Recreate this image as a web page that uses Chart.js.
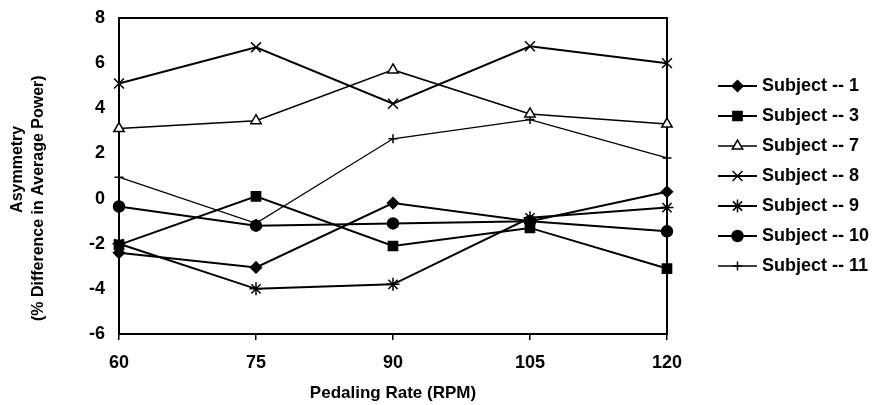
<!DOCTYPE html>
<html>
<head>
<meta charset="utf-8">
<title>Asymmetry vs Pedaling Rate</title>
<script src="https://cdn.jsdelivr.net/npm/chart.js@4/dist/chart.umd.min.js"></script>
<style>
  html, body { margin: 0; padding: 0; background: #fff; }
  #chart { display: block; }
</style>
</head>
<body>
<canvas id="chart" width="873" height="405"></canvas>
<script>
// Pedaling rate categories (RPM)
const rpm = [60, 75, 90, 105, 120];

// Asymmetry values (% difference in average power) per subject
const subject1 = [-2.4, -3.05, -0.2, -1.0, 0.3];
const subject3 = [-2.05, 0.1, -2.1, -1.3, -3.1];
const subject7 = [3.1, 3.45, 5.7, 3.75, 3.3];
const subject8 = [5.1, 6.7, 4.2, 6.75, 6.0];
const subject9 = [-2.0, -4.0, -3.8, -0.85, -0.4];
const subject10 = [-0.35, -1.2, -1.1, -1.0, -1.45];
const subject11 = [0.95, -1.1, 2.65, 3.5, 1.8];

const seriesNames = ['Subject -- 1', 'Subject -- 3', 'Subject -- 7', 'Subject -- 8',
                     'Subject -- 9', 'Subject -- 10', 'Subject -- 11'];

// y axis ticks
const yMin = -6;
const yMax = 8;
const yStep = 2;

const FONT = "'Liberation Sans', Arial, Helvetica, sans-serif";

function series(label, values, style, radius, fill, width) {
    return {
        label: label,
        data: values,
        borderColor: '#000',
        borderWidth: width,
        pointStyle: style,
        pointRadius: radius,
        pointHoverRadius: radius,
        pointBackgroundColor: fill,
        pointBorderColor: '#000',
        pointBorderWidth: 1.5,
        tension: 0,
        fill: false
    };
}

const datasets = [
    series(seriesNames[0], subject1, 'rectRot', 5.5, '#000', 2),
    series(seriesNames[1], subject3, 'rect', 6.5, '#000', 2),
    series(seriesNames[2], subject7, 'triangle', 6, '#fff', 1.5),
    series(seriesNames[3], subject8, 'crossRot', 7, '#000', 2),
    series(seriesNames[4], subject9, 'star', 6.5, '#000', 2),
    series(seriesNames[5], subject10, 'circle', 5.5, '#000', 2),
    series(seriesNames[6], subject11, 'cross', 4.5, '#000', 1.3)
];

// legend swatch: short line with the marker on it
function legendIcon(ds) {
    const c = document.createElement('canvas');
    c.width = 48;
    c.height = 18;
    const g = c.getContext('2d');
    g.strokeStyle = '#000';
    g.lineWidth = ds.borderWidth;
    g.beginPath();
    g.moveTo(9, 9);
    g.lineTo(48, 9);
    g.stroke();
    g.fillStyle = ds.pointBackgroundColor;
    g.lineWidth = ds.pointBorderWidth;
    Chart.helpers.drawPoint(g, {
        pointStyle: ds.pointStyle,
        radius: ds.pointRadius,
        borderWidth: ds.pointBorderWidth,
        rotation: 0
    }, 28.5, 9);
    return c;
}

const ctx = document.getElementById('chart').getContext('2d');
const chart = new Chart(ctx, {
    type: 'line',
    data: {
        labels: rpm,
        datasets: datasets
    },
    options: {
        responsive: false,
        animation: false,
        events: [],
        layout: { padding: { left: 0, top: 0, bottom: 0, right: -6 } },
        scales: {
            x: {
                position: 'bottom',
                offset: false,
                grid: {
                    display: true,
                    drawOnChartArea: false,
                    drawTicks: true,
                    tickLength: 6,
                    color: '#000',
                    lineWidth: 1.5,
                    offset: false
                },
                border: { display: true, color: '#000', width: 2 },
                ticks: {
                    color: '#000',
                    padding: 12,
                    maxRotation: 0,
                    font: { family: FONT, size: 18, weight: 'bold' }
                },
                title: {
                    display: true,
                    text: 'Pedaling Rate (RPM)',
                    color: '#000',
                    padding: { top: 0, bottom: 1 },
                    font: { family: FONT, size: 17, weight: 'bold' }
                },
                afterFit: s => { s.height = 71; }
            },
            y: {
                position: 'left',
                min: yMin,
                max: yMax,
                // invisible tick marks keep the labels off the axis line
                grid: { display: false, drawTicks: true, tickLength: 14 },
                border: { display: true, color: '#000', width: 2 },
                ticks: {
                    stepSize: yStep,
                    color: '#000',
                    padding: 0,
                    font: { family: FONT, size: 18, weight: 'bold' }
                },
                title: {
                    display: true,
                    // spaces nudge the two lines apart like in the original
                    text: ['   Asymmetry', '(% Difference in Average Power)          '],
                    color: '#000',
                    padding: { top: 7, bottom: 0 },
                    font: { family: FONT, size: 16, weight: 'bold', lineHeight: 1.31 }
                },
                afterFit: s => { s.width = 119; }
            },
            // top and right frame of the plot box
            xTop: {
                type: 'linear',
                position: 'top',
                grid: { display: false, drawTicks: false },
                border: { display: true, color: '#000', width: 2 },
                ticks: { display: false },
                afterFit: s => { s.height = 18; }
            },
            yRight: {
                type: 'linear',
                position: 'right',
                grid: { display: false, drawTicks: false },
                border: { display: true, color: '#000', width: 2 },
                ticks: { display: false },
                afterFit: s => { s.width = 34; }
            }
        },
        plugins: {
            tooltip: { enabled: false },
            title: { display: false },
            legend: {
                display: true,
                position: 'right',
                align: 'center',
                fullSize: false,
                maxWidth: 300,
                labels: {
                    usePointStyle: true,
                    pointStyleWidth: 40,
                    padding: 12,
                    color: '#000',
                    font: { family: FONT, size: 18, weight: 'bold' },
                    generateLabels: c => c.data.datasets.map((ds, i) => ({
                        text: ds.label,
                        pointStyle: legendIcon(ds),
                        fillStyle: '#000',
                        strokeStyle: '#000',
                        lineWidth: 0,
                        fontColor: '#000',
                        hidden: false,
                        datasetIndex: i
                    }))
                }
            }
        }
    }
});
</script>
</body>
</html>
